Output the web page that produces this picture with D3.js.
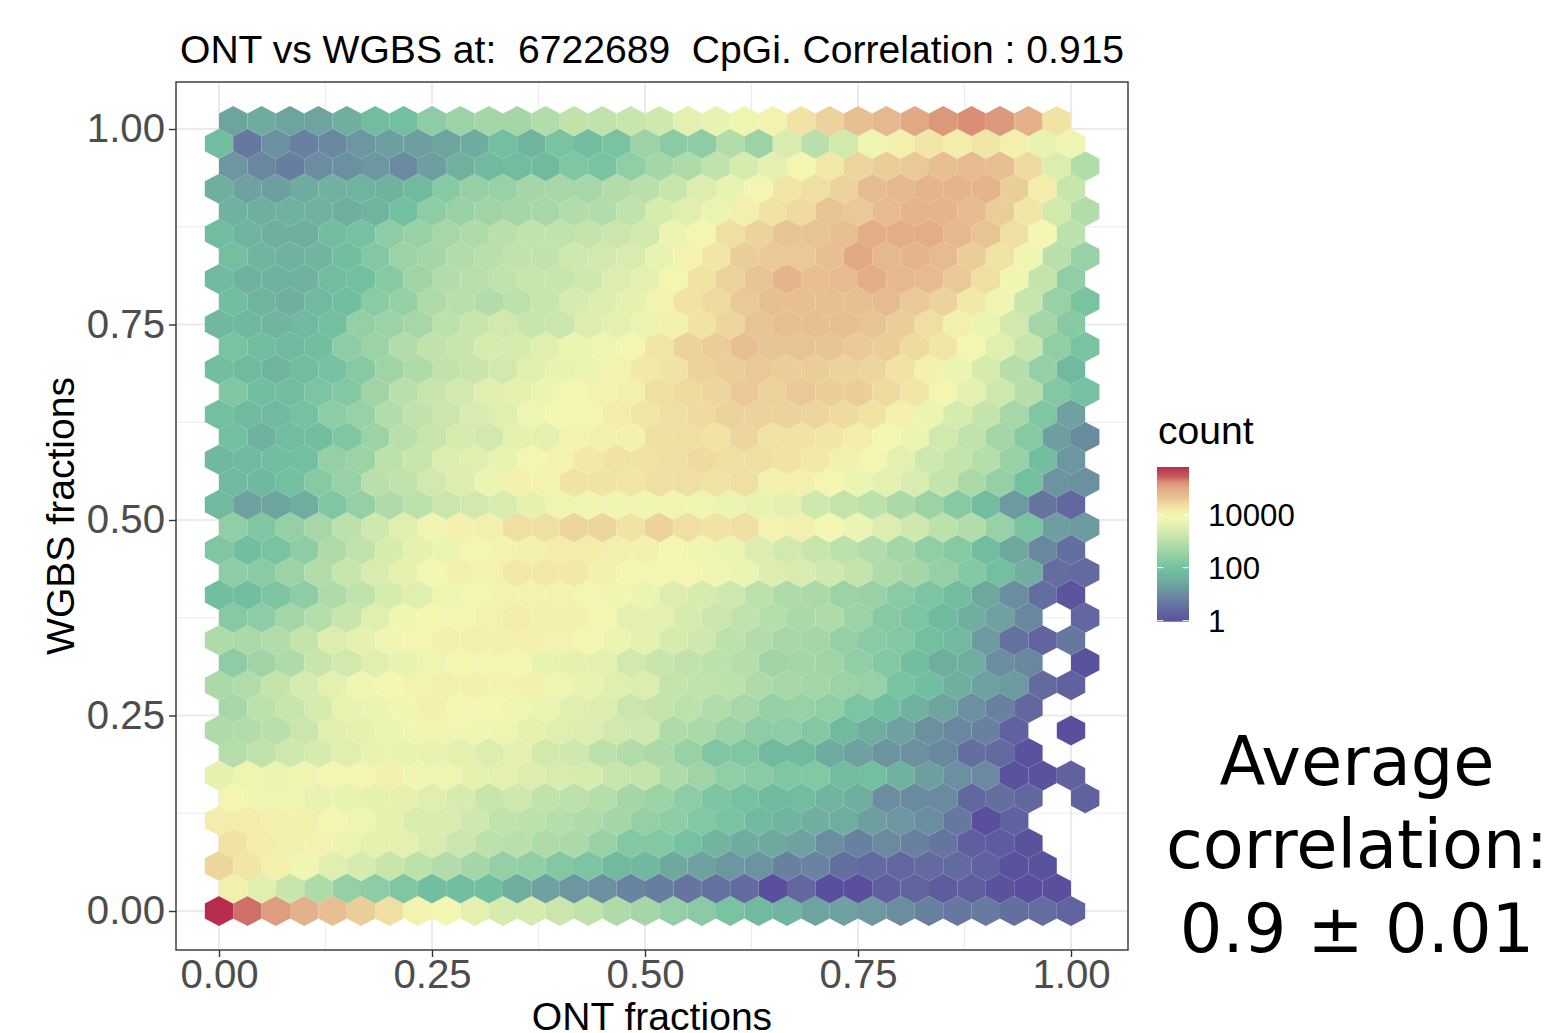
<!DOCTYPE html>
<html><head><meta charset="utf-8">
<script src="https://cdn.jsdelivr.net/npm/d3@7"></script>
<style>html,body{margin:0;padding:0;background:#fff}svg{display:block}text{font-family:"Liberation Sans",Arial,sans-serif}</style>
</head><body><svg id="c" width="1561" height="1033"></svg>
<script>
// log10(count) per hexagon, one list per hexbin row, left to right; null = empty bin
const row00=[5.8,5.35,5.1,4.9,4.7,4.55,4.35,4.0,3.9,3.6,3.4,3.4,3.25,3.1,2.85,2.7,2.5,2.35,2.1,1.85,1.75,1.4,1.35,1.25,1.05,0.85,0.7,0.75,0.55,0.5,0.35];
const row01=[4.1,3.55,3.2,2.85,2.5,2.4,2.2,1.95,1.95,1.95,1.55,1.35,1.2,1.1,0.9,0.8,0.65,0.6,0.45,0.0,0.4,0.0,0.0,0.25,0.35,0.2,0.25,0.05,0.0,0.0];
const row02=[4.45,4.25,4.1,3.85,3.55,3.4,3.2,3.05,2.9,2.7,2.5,2.45,2.25,2.15,1.85,1.8,1.45,1.35,1.2,1.15,0.85,0.9,0.55,0.45,0.4,0.45,0.45,0.3,0.05,0.05];
const row03=[4.3,4.15,4.05,4.0,3.75,3.65,3.6,3.45,3.25,3.05,3.0,2.85,2.8,2.55,2.25,2.25,2.05,1.75,1.5,1.45,1.35,1.05,0.85,1.0,0.85,0.65,0.25,0.2,0.05];
const row04=[4.15,4.15,4.1,4.1,3.95,3.8,3.65,3.45,3.45,3.3,3.1,3.05,2.95,2.85,2.7,2.5,2.4,2.25,2.1,1.85,1.75,1.6,1.55,1.3,1.2,1.05,0.7,0.0,0.3];
const row05=[3.95,3.8,3.8,3.7,3.7,3.65,3.65,3.55,3.4,3.2,3.3,3.1,3.05,2.95,2.7,2.6,2.4,2.15,2.05,1.85,1.9,1.75,1.6,1.05,1.0,1.0,0.4,0.55,0.4,null,0.3];
const row06=[3.65,3.8,3.75,3.85,3.95,3.95,4.05,3.85,3.8,3.65,3.6,3.5,3.45,3.4,3.2,3.15,2.85,2.65,2.45,2.35,2.2,2.25,1.9,2.0,1.65,1.3,1.1,1.0,0.05,0.05,0.3];
const row07=[2.95,3.1,3.3,3.4,3.55,3.7,3.7,3.7,3.6,3.5,3.6,3.35,3.3,3.05,2.9,2.8,2.55,2.2,2.2,1.85,1.85,1.5,1.35,1.15,1.1,0.95,0.55,0.45,0.05];
const row08=[2.85,2.9,3.0,3.25,3.55,3.65,3.75,3.85,3.85,3.85,3.8,3.65,3.55,3.5,3.35,3.3,2.85,2.8,2.6,2.4,2.4,2.25,1.85,1.55,1.35,1.1,0.95,0.85,0.3,null,0.0];
const row09=[2.75,3.05,3.2,3.4,3.7,3.75,3.85,4.05,3.9,3.9,3.85,3.75,3.55,3.5,3.25,3.15,3.05,2.9,2.75,2.5,2.55,2.45,2.15,1.95,1.65,1.4,1.1,0.85,0.4];
const row10=[2.8,2.9,3.15,3.4,3.6,3.85,3.9,4.0,4.1,4.05,4.0,4.05,3.8,3.7,3.55,3.5,3.15,3.1,3.05,2.85,2.75,2.7,2.6,2.55,2.1,1.95,1.6,1.35,1.25,0.45,0.3];
const row11=[2.4,2.65,2.85,3.2,3.35,3.55,3.7,3.8,3.9,3.95,3.9,3.7,3.65,3.6,3.35,3.2,3.1,3.05,2.95,2.65,2.7,2.65,2.45,2.25,1.95,1.55,1.55,1.05,0.95,null,0.05];
const row12=[2.85,2.8,2.9,3.15,3.5,3.65,3.85,3.95,4.05,4.1,4.05,4.05,4.0,3.95,3.75,3.65,3.4,3.3,3.05,2.9,2.75,2.7,2.5,2.35,2.25,2.0,1.85,1.25,0.6,0.35,0.7];
const row13=[2.3,2.4,2.7,2.95,3.2,3.55,3.85,3.9,3.95,4.0,4.15,4.05,4.05,3.95,3.6,3.6,3.4,3.25,3.1,2.95,2.8,2.85,2.6,2.3,2.15,1.85,1.6,1.35,0.95,null,0.4];
const row14=[1.95,1.95,2.15,2.4,2.85,3.1,3.4,3.55,3.8,3.95,4.0,4.0,4.0,3.95,3.85,3.75,3.5,3.4,3.3,3.05,2.85,2.8,2.6,2.55,2.35,2.15,1.9,1.45,1.05,0.5,0.1];
const row15=[2.4,2.35,2.6,2.9,3.2,3.45,3.65,3.9,4.05,4.0,4.2,4.2,4.2,4.05,3.95,3.95,3.95,3.85,3.75,3.5,3.45,3.3,3.15,2.85,2.7,2.5,2.25,2.0,1.6,0.5,0.45];
const row16=[2.2,1.95,2.1,2.4,2.85,3.1,3.4,3.65,3.75,3.95,4.0,4.1,4.15,4.15,4.1,4.05,3.9,3.85,3.75,3.5,3.35,3.2,3.05,2.9,2.7,2.45,2.3,1.9,1.45,0.95,0.55];
const row17=[2.45,2.2,2.5,2.75,3.05,3.3,3.55,3.85,4.05,4.1,4.35,4.35,4.45,4.45,4.3,4.5,4.35,4.3,4.35,4.0,4.1,3.9,3.75,3.5,3.3,3.05,2.9,2.55,2.1,1.3,1.25];
const row18=[1.85,1.35,1.4,1.55,2.2,2.5,2.85,3.05,3.25,3.35,3.45,3.65,3.8,3.85,3.85,3.85,3.85,3.8,3.75,3.7,3.6,3.3,3.15,3.05,2.8,2.6,2.3,1.9,1.25,0.65,0.4];
const row19=[1.85,1.8,2.0,2.3,2.55,3.0,3.1,3.35,3.5,3.75,4.05,4.0,4.3,4.3,4.25,4.35,4.35,4.3,4.35,4.05,4.1,3.95,3.75,3.6,3.45,3.15,2.8,2.5,2.0,1.15,1.1];
const row20=[1.8,1.85,1.95,2.0,2.5,2.6,3.05,3.2,3.5,3.55,3.7,3.95,4.0,4.2,4.3,4.3,4.35,4.4,4.35,4.35,4.3,4.2,4.05,3.95,3.6,3.3,3.15,2.95,2.55,1.95,1.2];
const row21=[2.0,1.65,1.9,1.95,2.2,2.6,3.0,3.2,3.4,3.35,3.65,3.6,4.0,4.05,4.05,4.35,4.35,4.3,4.45,4.3,4.3,4.25,4.15,3.9,3.75,3.35,3.1,2.7,2.3,1.3,1.0];
const row22=[2.0,1.85,1.85,2.05,2.4,2.55,2.9,3.1,3.25,3.45,3.55,3.8,3.9,3.95,4.15,4.25,4.35,4.4,4.5,4.5,4.5,4.45,4.4,4.3,4.05,3.75,3.4,3.15,2.75,2.2,1.35];
const row23=[2.2,1.95,1.9,2.15,2.25,2.65,3.0,3.2,3.35,3.55,3.65,3.75,3.95,4.0,4.1,4.35,4.4,4.45,4.6,4.5,4.6,4.55,4.55,4.4,4.25,3.95,3.6,3.3,2.95,2.25,2.05];
const row24=[1.95,1.85,1.7,1.9,2.05,2.3,2.65,2.85,3.1,3.2,3.35,3.55,3.7,3.75,4.0,4.2,4.3,4.5,4.55,4.6,4.55,4.55,4.5,4.45,4.3,4.05,3.75,3.4,2.95,2.5,1.85];
const row25=[2.1,1.95,1.85,1.95,2.4,2.6,2.9,3.1,3.2,3.4,3.4,3.55,3.75,3.8,3.95,4.25,4.5,4.55,4.7,4.65,4.65,4.65,4.6,4.55,4.4,4.25,3.95,3.55,3.2,2.45,2.1];
const row26=[1.8,1.8,1.75,1.85,2.0,2.5,2.6,2.75,3.05,3.2,3.35,3.2,3.25,3.5,3.6,3.75,4.05,4.3,4.45,4.65,4.7,4.7,4.7,4.65,4.55,4.35,4.1,3.75,3.35,2.7,2.3];
const row27=[1.95,1.7,1.6,1.85,1.95,2.35,2.5,2.85,3.0,2.9,3.05,3.2,3.4,3.5,3.65,4.0,4.3,4.4,4.6,4.7,4.7,4.7,4.7,4.75,4.6,4.5,4.2,3.85,3.2,2.55,2.1];
const row28=[1.85,1.65,1.65,1.65,1.9,2.0,2.3,2.65,2.9,3.0,3.1,3.2,3.2,3.3,3.5,3.6,3.95,4.3,4.5,4.65,4.85,4.7,4.75,4.95,4.8,4.75,4.6,4.35,3.85,3.15,2.45];
const row29=[2.0,1.75,1.65,1.75,1.95,2.25,2.6,2.7,2.9,3.0,3.1,3.1,3.3,3.35,3.45,3.7,4.0,4.25,4.55,4.6,4.6,4.7,5.0,4.8,4.85,4.75,4.55,4.3,3.85,3.0,2.55];
const row30=[1.9,1.7,1.6,1.6,1.9,2.05,2.4,2.55,2.75,2.85,3.0,3.1,3.1,3.15,3.25,3.35,3.75,3.95,4.35,4.5,4.65,4.65,4.7,4.95,4.95,4.95,4.8,4.65,4.35,3.9,3.05];
const row31=[1.65,1.6,1.65,1.65,1.55,1.7,2.0,2.4,2.55,2.65,2.7,2.75,2.9,2.9,3.1,3.4,3.55,3.75,4.1,4.3,4.4,4.65,4.6,4.75,4.85,4.85,4.75,4.55,4.25,3.35,2.9];
const row32=[1.6,1.35,1.3,1.5,1.65,1.7,1.65,1.85,2.3,2.5,2.55,2.7,2.75,2.75,2.9,3.0,3.2,3.5,3.7,3.95,4.25,4.35,4.5,4.75,4.8,4.85,4.85,4.85,4.55,4.15,3.2];
const row33=[1.2,0.95,0.8,1.05,1.1,1.2,1.0,1.3,1.65,1.85,1.9,1.85,2.2,2.1,2.45,2.7,2.85,3.1,3.4,3.6,3.95,4.2,4.45,4.55,4.6,4.7,4.75,4.7,4.4,3.5,2.9];
const row34=[1.9,0.7,1.1,0.85,0.95,1.2,1.3,1.3,1.4,1.5,2.0,1.7,2.1,1.9,2.1,2.6,2.35,2.4,2.9,2.6,3.45,3.0,3.35,3.8,4.1,4.25,4.15,4.25,4.1,3.7,3.85];
const row35=[1.4,1.5,1.4,1.4,1.6,1.9,2.0,2.4,2.6,2.7,2.7,2.9,3.1,3.1,3.2,3.3,3.6,3.7,3.8,4.0,4.3,4.5,4.7,4.8,5.0,5.15,5.25,5.15,4.9,4.3];
const hexRows=[row00,row01,row02,row03,row04,row05,row06,row07,row08,row09,row10,row11,row12,row13,row14,row15,row16,row17,row18,row19,row20,row21,row22,row23,row24,row25,row26,row27,row28,row29,row30,row31,row32,row33,row34,row35];

const binsPerUnit=30;        // hexbin columns per unit of x
const rowStep=0.02886;       // hexbin row spacing in y units
const axisTicks=[0,0.25,0.5,0.75,1];
const minorTicks=[0.125,0.375,0.625,0.875];
const legendTicks=[0,2,4];
const legendLabels=["1","100","10000"];
const colorLogs=[0,1,1.5,2,2.4,2.8,3.2,3.6,3.9,4.1,4.3,4.5,4.7,4.95,5.25,5.4,5.8];
const colorHexes=["#5a4f9e","#6a8aa0","#6fab9f","#72c0a0","#8dcca4","#abd9a8","#c8e5ac","#e3f0b0","#f3f7b2","#f3efac","#f1e3a4","#ecd29c","#e7bf93","#e3ad88","#d98e75","#c86060","#b82c4e"];
const titleText="ONT vs WGBS at:  6722689  CpGi. Correlation : 0.915";
const xTitle="ONT fractions", yTitle="WGBS fractions", legendTitle="count";
const noteLines=["Average","correlation:","0.9 ± 0.01"];

const svg=d3.select("#c");
const panel={l:176,r:1128,t:82,b:950};
const x=d3.scaleLinear().domain([0,1]).range([219,1071]);
const y=d3.scaleLinear().domain([0,1]).range([911,129]);
const color=d3.scaleLinear().domain(colorLogs).range(colorHexes).interpolate(d3.interpolateLab).clamp(true);

// grid
const grid=svg.append("g");
minorTicks.forEach(t=>{
  grid.append("line").attr("x1",x(t)).attr("x2",x(t)).attr("y1",panel.t).attr("y2",panel.b).attr("stroke","#ebebeb").attr("stroke-width",1);
  grid.append("line").attr("y1",y(t)).attr("y2",y(t)).attr("x1",panel.l).attr("x2",panel.r).attr("stroke","#ebebeb").attr("stroke-width",1);
});
axisTicks.forEach(t=>{
  grid.append("line").attr("x1",x(t)).attr("x2",x(t)).attr("y1",panel.t).attr("y2",panel.b).attr("stroke","#ebebeb").attr("stroke-width",2);
  grid.append("line").attr("y1",y(t)).attr("y2",y(t)).attr("x1",panel.l).attr("x2",panel.r).attr("stroke","#ebebeb").attr("stroke-width",2);
});

// hexagons
const halfW=0.5/binsPerUnit, tipH=rowStep*2/3, sideH=rowStep/3;
const cells=[];
hexRows.forEach((r,k)=>r.forEach((v,i)=>{ if(v!==null) cells.push({cx:(i+(k%2?0.5:0))/binsPerUnit,cy:k*rowStep,v}); }));
const hexPath=d=>{
  const pts=[[0,tipH],[halfW,sideH],[halfW,-sideH],[0,-tipH],[-halfW,-sideH],[-halfW,sideH]];
  return d3.line()(pts.map(p=>[x(d.cx+p[0]),y(d.cy+p[1])]))+"Z";
};
svg.append("g").selectAll("path").data(cells).join("path").attr("d",hexPath).attr("fill",d=>color(d.v));

// panel border
svg.append("rect").attr("x",panel.l).attr("y",panel.t).attr("width",panel.r-panel.l).attr("height",panel.b-panel.t)
  .attr("fill","none").attr("stroke","#333").attr("stroke-width",1.4);

// axes
const fmt=d3.format(".2f");
const ax=svg.append("g").attr("transform",`translate(0,${panel.b})`).call(d3.axisBottom(x).tickValues(axisTicks).tickFormat(fmt).tickSize(7).tickPadding(2));
const ay=svg.append("g").attr("transform",`translate(${panel.l},0)`).call(d3.axisLeft(y).tickValues(axisTicks).tickFormat(fmt).tickSize(7).tickPadding(4));
[ax,ay].forEach(a=>{
  a.select(".domain").remove();
  a.selectAll("line").attr("stroke","#333").attr("stroke-width",1.4);
  a.selectAll("text").attr("fill","#4d4d4d").style("font-size","40.2px").style("font-family",'"Liberation Sans",Arial,sans-serif');
});

// titles
svg.append("text").attr("x",180).attr("y",63).attr("font-size",39.1).attr("fill","#000").style("white-space","pre").text(titleText);
svg.append("text").attr("x",652).attr("y",1030).attr("text-anchor","middle").attr("font-size",39.1).text(xTitle);
svg.append("text").attr("transform","translate(74,516) rotate(-90)").attr("text-anchor","middle").attr("font-size",39.1).text(yTitle);

// legend
const legY=d3.scaleLinear().domain([0,5.8]).range([620.7,467]);
svg.append("text").attr("x",1158).attr("y",444).attr("font-size",39.1).text(legendTitle);
const defs=svg.append("defs");
const grad=defs.append("linearGradient").attr("id","lg").attr("x1",0).attr("x2",0).attr("y1",1).attr("y2",0);
d3.range(0,5.801,0.1).forEach(v=>grad.append("stop").attr("offset",v/5.8).attr("stop-color",color(v)));
svg.append("rect").attr("x",1157).attr("y",legY(5.8)).attr("width",32).attr("height",legY(0)-legY(5.8)+1).attr("fill","url(#lg)");
legendTicks.forEach((t,i)=>{
  [[1157,1163.4],[1182.6,1189]].forEach(s=>svg.append("line").attr("x1",s[0]).attr("x2",s[1]).attr("y1",legY(t)).attr("y2",legY(t)).attr("stroke","#fff").attr("stroke-width",1));
  svg.append("text").attr("x",1208).attr("y",legY(t)+11.5).attr("font-size",31.2).text(legendLabels[i]);
});

// side note
noteLines.forEach((s,i)=>svg.append("text").attr("x",1357).attr("y",785+i*83.3).attr("text-anchor","middle")
  .style("font-family","'DejaVu Sans'").attr("font-size",67).text(s));
</script></body></html>
